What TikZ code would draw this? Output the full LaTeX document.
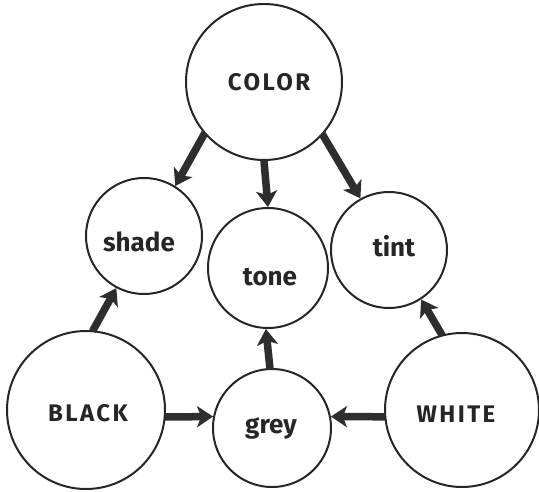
\documentclass[tikz,border=0pt]{standalone}
\usepackage{fontspec}
\setmainfont{Fira Sans}
\newfontfamily\capsfont[LetterSpace=10]{Fira Sans}
\usetikzlibrary{arrows.meta}
\begin{document}
\begin{tikzpicture}[x=1pt,y=-1pt,
  ring/.style={circle,draw=black!85,line width=2pt,inner sep=0pt,minimum size=#1},
  lbl/.style={font=\bfseries\fontsize{26}{30}\selectfont,text=black!85},
  caplbl/.style={font=\capsfont\bfseries\fontsize{24}{28}\selectfont,text=black!85},
  flow/.style={line width=7.5pt,draw=black!82,-{Stealth[length=16pt,width=21pt,inset=4pt]},shorten <=-1pt}]
\useasboundingbox (0,0) rectangle (539,491);
\fill[white] (0,0) rectangle (539,491);
\node[ring=156pt] (color) at (264,82) {};
\node[ring=116pt] (shade) at (144,236) {};
\node[ring=120pt] (tone) at (268,268) {};
\node[ring=116pt] (tint) at (389,250) {};
\node[ring=158pt] (black) at (86,410) {};
\node[ring=118pt] (grey) at (272,428) {};
\node[ring=154pt] (white) at (462,410) {};
\node[caplbl] (tcolor) at (269,82) {COLOR};
\node[lbl] (tshade) at (139,242) {shade};
\node[lbl] (ttone) at (270,277) {tone};
\node[lbl] (ttint) at (394,246) {tint};
\node[caplbl] (tblack) at (88,413) {BLACK};
\node[lbl] (tgrey) at (271,428) {grey};
\node[caplbl] (twhite) at (456,414) {WHITE};
\draw[flow] (color.221) -- (shade.58);
\draw[flow] (color.270) -- (tone.90);
\draw[flow] (color.318) -- (tint.119);
\draw[flow] (black.85) -- (shade.242);
\draw[flow] (white.105) -- (tint.303);
\draw[flow] (grey.92) -- (tone.268);
\draw[flow] (black.355) -- (grey.169);
\draw[flow] (white.185) -- (grey.11);
\end{tikzpicture}
\end{document}
